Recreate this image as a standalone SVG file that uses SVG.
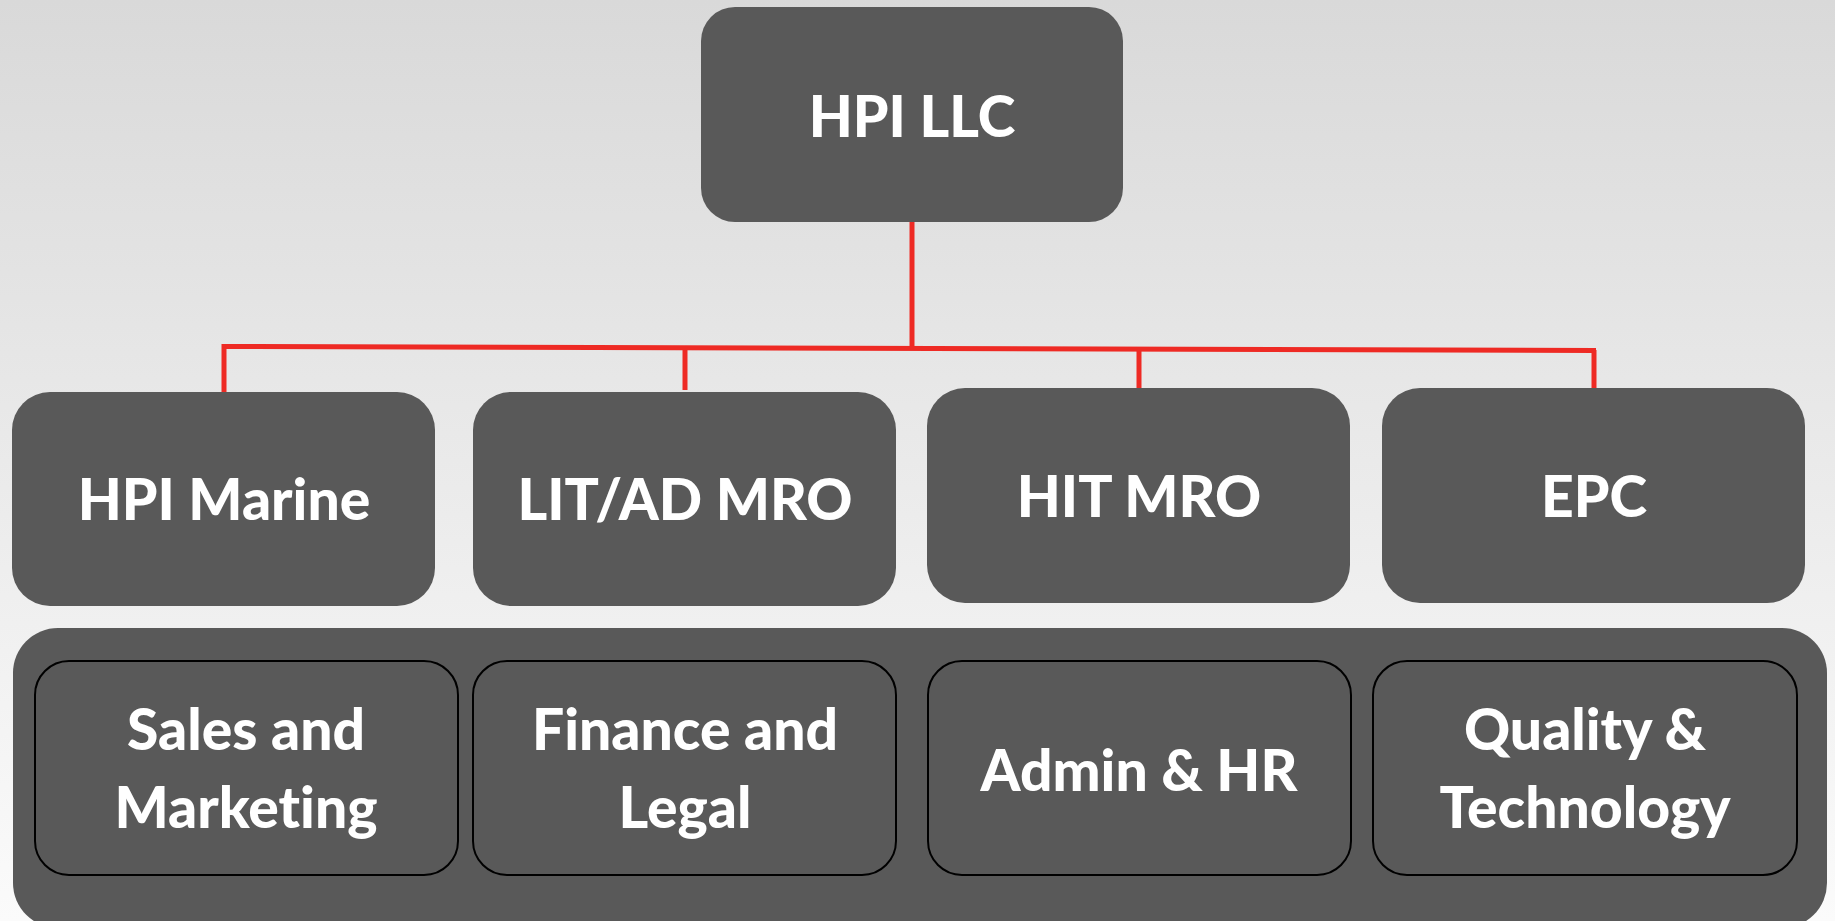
<svg xmlns="http://www.w3.org/2000/svg" width="1835" height="921" viewBox="0 0 1835 921">
<defs>
<linearGradient id="bg" x1="0" y1="0" x2="0" y2="1">
<stop offset="0" stop-color="#d9d9d9"/>
<stop offset="1" stop-color="#fbfbfb"/>
</linearGradient>
</defs>
<style>
.box{fill:#595959;}
.inner{fill:#595959;stroke:#000;stroke-width:2;}
.lbl{fill:#fff;font-family:Lato,"Open Sans","Liberation Sans",sans-serif;font-weight:900;font-size:57px;text-anchor:middle;font-variant-ligatures:none;}
.con{fill:none;stroke:#ee2a24;stroke-width:5;}
</style>
<rect x="0" y="0" width="1835" height="921" fill="url(#bg)"/>
<g id="connectors">
<path class="con" d="M912 222 V348"/>
<path class="con" d="M224 392 V346.5 L1596 350.5"/>
<path class="con" d="M1594 350 V388"/>
<path class="con" d="M685 348 V390"/>
<path class="con" d="M1139 349.5 V388"/>
</g>
<g id="hpi-llc">
<rect class="box" x="701" y="7" width="422" height="215" rx="34"/>
<text class="lbl" x="912" y="137">HPI LLC</text>
</g>
<g id="hpi-marine">
<rect class="box" x="12" y="392" width="423" height="214" rx="38"/>
<text class="lbl" x="224" y="520">HPI Marine</text>
</g>
<g id="lit-ad-mro">
<rect class="box" x="473" y="392" width="423" height="214" rx="38"/>
<text class="lbl" x="685" y="520">LIT/AD MRO</text>
</g>
<g id="hit-mro">
<rect class="box" x="927" y="388" width="423" height="215" rx="38"/>
<text class="lbl" x="1139" y="517">HIT MRO</text>
</g>
<g id="epc">
<rect class="box" x="1382" y="388" width="423" height="215" rx="38"/>
<text class="lbl" x="1594" y="517">EPC</text>
</g>
<g id="functions">
<rect class="box" x="13" y="628" width="1814" height="300" rx="45"/>
</g>
<g id="sales-marketing">
<rect class="inner" x="35" y="661" width="423" height="214" rx="34"/>
<text class="lbl" x="246" y="750">Sales and</text>
<text class="lbl" x="246" y="828">Marketing</text>
</g>
<g id="finance-legal">
<rect class="inner" x="473" y="661" width="423" height="214" rx="34"/>
<text class="lbl" x="685" y="750">Finance and</text>
<text class="lbl" x="685" y="828">Legal</text>
</g>
<g id="admin-hr">
<rect class="inner" x="928" y="661" width="423" height="214" rx="34"/>
<text class="lbl" x="1139" y="791">Admin &amp; HR</text>
</g>
<g id="quality-technology">
<rect class="inner" x="1373" y="661" width="424" height="214" rx="34"/>
<text class="lbl" x="1585" y="750">Quality &amp;</text>
<text class="lbl" x="1585" y="828">Technology</text>
</g>
</svg>
